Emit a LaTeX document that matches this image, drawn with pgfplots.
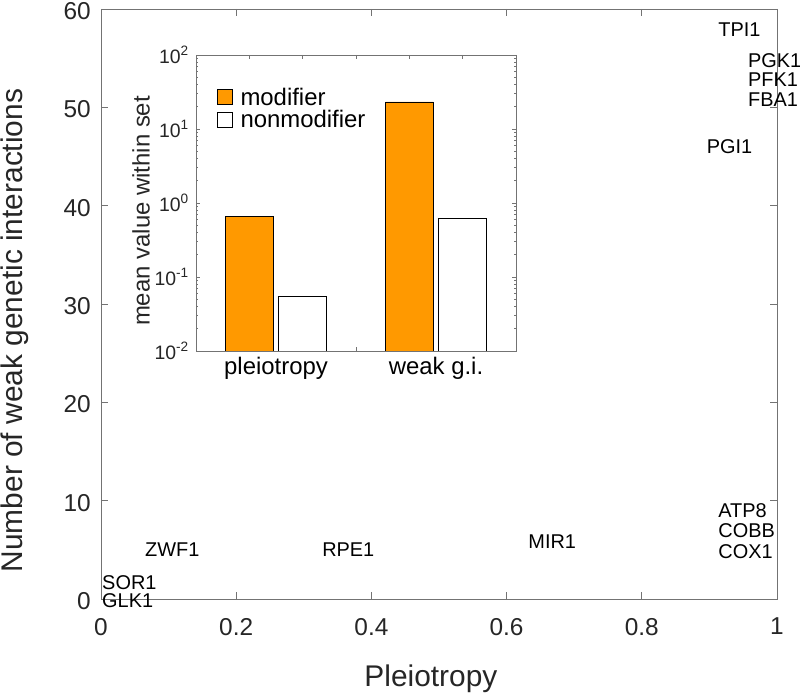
\documentclass[border=0pt]{standalone}
\usepackage{pgfplots}
\usepackage{pgfplotstable}
\pgfplotsset{compat=1.18}
\usepackage{fontspec}
\setmainfont{Liberation Sans}
\definecolor{morange}{RGB}{255,153,0}
\definecolor{axgray}{RGB}{115,115,115}
\definecolor{txt}{RGB}{38,38,38}

\pgfplotstableread{
x y label
0.913 57.9 TPI1
0.957 54.7 PGK1
0.957 52.8 PFK1
0.957 50.8 FBA1
0.896 46.0 PGI1
0.913 8.95 ATP8
0.913 7.0 COBB
0.913 4.8 COX1
0.632 5.8 MIR1
0.065 5.0 ZWF1
0.327 5.0 RPE1
0.0015 1.7 SOR1
0.0015 -0.2 GLK1
}\genes

\begin{document}
\begin{tikzpicture}
\path[use as bounding box] (0,0) rectangle (800bp,694bp);
\begin{axis}[
  at={(101bp,95bp)}, anchor=south west,
  scale only axis, width=676bp, height=590bp,
  xmin=0, xmax=1, ymin=0, ymax=60,
  xtick={0,0.2,0.4,0.6,0.8,1}, ytick={0,10,20,30,40,50,60},
  tick align=inside, major tick length=7bp,
  axis line style={axgray, line width=0.8pt},
  every tick/.style={axgray, line width=0.8pt},
  tick label style={font=\fontsize{24.5}{24.5}\selectfont, text=txt, inner sep=0pt},
  xticklabel style={yshift=-19bp},
  yticklabel style={xshift=-10bp, yshift=-2bp},
  /pgf/number format/assume math mode=true,
  xlabel={Pleiotropy}, ylabel={Number of weak genetic interactions},
  label style={font=\fontsize{30}{30}\selectfont, text=txt},
  xlabel style={at={(axis description cs:0.488,-0.136)}, anchor=center},
  ylabel style={at={(axis description cs:-0.127,0.455)}, anchor=center},
  clip=false,
]
\addplot[only marks, mark=none, nodes near coords, point meta=explicit symbolic,
  nodes near coords style={anchor=west, inner sep=0pt, font=\fontsize{20}{20}\selectfont, text=black}]
  table[x=x, y=y, meta=label] {\genes};
\end{axis}

\begin{axis}[
  at={(196bp,343bp)}, anchor=south west,
  scale only axis, width=320bp, height=296bp,
  ymode=log, log origin y=infty,
  xmin=0.5, xmax=2.5, ymin=0.01, ymax=100,
  axis background/.style={fill=white},
  xtick={0.5,0.8333,1.1667,1.5,1.8333,2.1667,2.5}, xticklabels={},
  extra x ticks={1,2}, extra x tick labels={pleiotropy, weak g.i.},
  extra x tick style={major tick length=0pt,
     xticklabel style={font=\fontsize{24}{24}\selectfont, text=black, inner sep=0pt, yshift=-6bp}},
  ytick={0.01,0.1,1,10,100},
  yticklabels={10\textsuperscript{-2},10\textsuperscript{-1},10\textsuperscript{0},10\textsuperscript{1},10\textsuperscript{2}},
  yticklabel style={font=\fontsize{19.5}{19.5}\selectfont, text=txt, inner sep=0pt, xshift=-7bp},
  tick align=inside, major tick length=4bp, minor tick length=2bp,
  axis line style={axgray, line width=0.8pt},
  every tick/.style={axgray, line width=0.6pt},
  ylabel={mean value within set},
  ylabel style={font=\fontsize{24}{24}\selectfont, text=txt, at={(axis description cs:-0.172,0.473)}, anchor=center},
  legend style={at={(axis description cs:0.066,0.895)}, anchor=north west, draw=none, fill=none,
     font=\fontsize{24}{24}\selectfont, inner sep=0pt, row sep=1bp,
     nodes={inner sep=1.5bp},
     /tikz/every odd column/.style={column sep=6bp}},
  legend cell align=left,
  legend image code/.code={\draw[#1, line width=0.7pt] (0bp,-7.5bp) rectangle (15bp,7.5bp);},
]
\addplot[ybar, bar width=0.3, bar shift=0pt, fill=morange, draw=black, line width=0.8pt]
  coordinates {(0.8333,0.65) (1.8333,23.2)};
\addlegendentry{modifier}
\addplot[ybar, bar width=0.3, bar shift=0pt, fill=white, draw=black, line width=0.8pt]
  coordinates {(1.1667,0.054) (2.1667,0.62)};
\addlegendentry{nonmodifier}
\end{axis}
\end{tikzpicture}
\end{document}
